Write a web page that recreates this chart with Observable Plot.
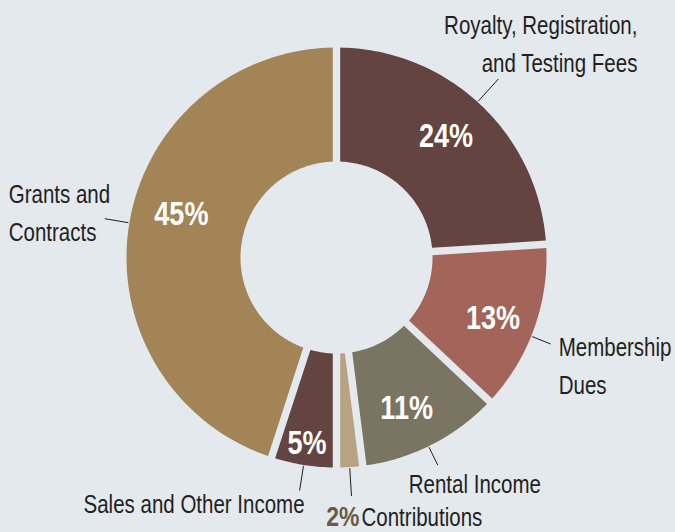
<!DOCTYPE html>
<html><head><meta charset="utf-8">
<script src="https://cdn.jsdelivr.net/npm/d3@7"></script>
<script src="https://cdn.jsdelivr.net/npm/@observablehq/plot@0.6"></script>
<style>
html,body{margin:0;padding:0;background:#e3e9ed;}
#chart svg{display:block;}
</style></head><body><div id="chart"></div>
<script>
// ---- data ----
const categories = ["Royalty, Registration,\nand Testing Fees", "Membership\nDues", "Rental Income", "Contributions", "Sales and Other Income", "Grants and\nContracts"];
const shares = [24, 13, 11, 2, 5, 45];
const sliceColors = ["#634441", "#a3655a", "#7a7462", "#b8a282", "#634441", "#a38457"];

// ---- layout (not data) ----
const R = 210, r0 = 96, halfGap = 3.7;
const FONT = "'Liberation Sans','Arial',sans-serif";
const CONDENSE = 0.82;
const LABEL_SIZE = 25, LINE_H = 1.52;
// leader: angle nudge (deg) and outer radius; label: offset of first-line baseline from leader end (px)
const labelLayout = [
  {nudge: -1,  out: 241, anchor: "end",   dx: 139, dy: -45},
  {nudge: 2.2, out: 231, anchor: "start", dx: 8,   dy: 12},
  {nudge: 1,   out: 231, anchor: "start", dx: -29, dy: 28},
  {nudge: 0,   out: 239, anchor: "start", dx: 10,  dy: 30},
  {nudge: 0,   out: 236, anchor: "end",   dx: 5,   dy: 22},
  {nudge: 0.5, out: 235, anchor: "start", dx: -96, dy: -16}
];
// in-slice percent label placement: [radius, angle nudge in degrees]
const pctLayout = [[163, -1], [168, 1.5], [166, 2], null, [188, 0], [161, 6.5]];

let cum = 0;
const total = d3.sum(shares);
const slices = shares.map((v, i) => {
  const a0 = cum / total * 2 * Math.PI; cum += v;
  const a1 = cum / total * 2 * Math.PI;
  return {i, key: categories[i], v, a0, a1, mid: (a0 + a1) / 2};
});

const pts = [];
for (const s of slices) {
  const oo = Math.asin(halfGap / R), io = Math.asin(halfGap / r0);
  const n = Math.max(2, Math.ceil((s.a1 - s.a0) * 180 / Math.PI));
  for (let k = 0; k <= n; k++) {
    const a = s.a0 + oo + (s.a1 - s.a0 - 2 * oo) * k / n;
    pts.push({key: s.key, x: R * Math.sin(a), y: R * Math.cos(a)});
  }
  for (let k = n; k >= 0; k--) {
    const a = s.a0 + io + (s.a1 - s.a0 - 2 * io) * k / n;
    pts.push({key: s.key, x: r0 * Math.sin(a), y: r0 * Math.cos(a)});
  }
}

const leadIn = R + 1;
const leaders = slices.map(s => {
  const L = labelLayout[s.i];
  const a = s.mid + L.nudge * Math.PI / 180;
  return {...s,
    x1: leadIn * Math.sin(a), y1: leadIn * Math.cos(a),
    x2: L.out * Math.sin(a), y2: L.out * Math.cos(a)};
});

const capTop = 0.71 * LINE_H * LABEL_SIZE;
const outer = leaders.map(s => {
  const L = labelLayout[s.i];
  return {...s, anchor: L.anchor, tx: s.x2 + L.dx, ty: s.y2 - L.dy + capTop, by: s.y2 - L.dy};
});

const inside = slices.filter(s => pctLayout[s.i]).map(s => {
  const [rr, nudge] = pctLayout[s.i];
  const a = s.mid + nudge * Math.PI / 180;
  return {...s, tx: rr * Math.sin(a), ty: rr * Math.cos(a)};
});
const outsidePct = outer.filter(s => !pctLayout[s.i]);
const PCT2 = 28;

const chart = Plot.plot({
  width: 675, height: 532, margin: 0,
  x: {domain: [-336, 339], range: [0, 675], axis: null},
  y: {domain: [-275, 257], range: [532, 0], axis: null},
  color: {domain: categories, range: sliceColors},
  style: {background: "#e3e9ed", fontFamily: FONT},
  marks: [
    Plot.line(pts, {x: "x", y: "y", z: "key", fill: "key", stroke: "none", curve: "linear-closed"}),
    Plot.link(leaders, {x1: "x1", y1: "y1", x2: "x2", y2: "y2", stroke: "#231f20", strokeWidth: 1}),
    Plot.text(inside, {x: "tx", y: "ty", text: d => d.v + "%", fill: "white", fontWeight: "bold", fontSize: 33, lineAnchor: "middle"}),
    Plot.text(outer.filter(d => d.anchor === "start"), {x: "tx", y: "ty", text: "key", textAnchor: "start", lineAnchor: "top", lineHeight: LINE_H, fontSize: LABEL_SIZE, fill: "#231f20"}),
    Plot.text(outer.filter(d => d.anchor === "end"), {x: "tx", y: "ty", text: "key", textAnchor: "end", lineAnchor: "top", lineHeight: LINE_H, fontSize: LABEL_SIZE, fill: "#231f20"}),
    Plot.text(outsidePct, {x: d => d.tx - 2, y: d => d.by + 0.71 * PCT2, text: d => d.v + "%", textAnchor: "end", lineAnchor: "top", fontSize: PCT2, fontWeight: "bold", fill: "#6b5a43"})
  ]
});
// condense all text horizontally about its anchor point (emulates a narrow typeface)
chart.querySelectorAll("text").forEach(t => {
  const tr = t.getAttribute("transform") || "";
  t.setAttribute("transform", tr + ` scale(${CONDENSE},1)`);
});
document.getElementById("chart").append(chart);
</script></body></html>
